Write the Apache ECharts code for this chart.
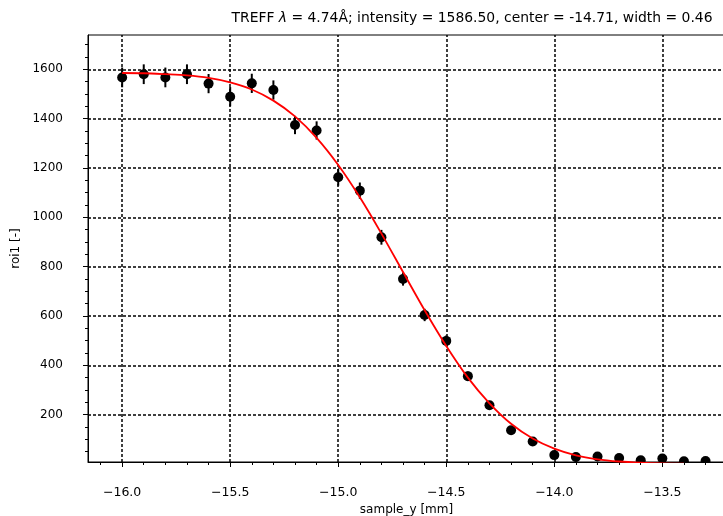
<!DOCTYPE html>
<html>
<head>
<meta charset="utf-8">
<script src="https://cdn.jsdelivr.net/npm/echarts@6/dist/echarts.min.js"></script>
<style>
  html, body { margin: 0; padding: 0; background: #fff; }
  #chart { width: 723px; height: 516px; }
</style>
</head>
<body>
<div id="chart"></div>
<script>
// positions of the scan (sample_y, mm)
var sampleY = [-16.0, -15.9, -15.8, -15.7, -15.6, -15.5, -15.4, -15.3, -15.2, -15.1,
               -15.0, -14.9, -14.8, -14.7, -14.6, -14.5, -14.4, -14.3, -14.2, -14.1,
               -14.0, -13.9, -13.8, -13.7, -13.6, -13.5, -13.4, -13.3];
// measured counts roi1
var roiCounts = [1567, 1580, 1567, 1580, 1542, 1489, 1543, 1516, 1374, 1352,
                 1162, 1108, 919, 750, 604, 499, 356, 238, 137, 91,
                 36, 28, 30, 24, 15, 22, 11, 12];
// error bars (half length)
var roiErrors = [40, 40, 40, 40, 39, 39, 39, 39, 37, 37,
                 34, 33, 30, 27, 25, 22, 19, 15, 12, 10,
                 6, 5, 5, 5, 4, 5, 3, 3];
// fitted curve (red)
var fitX = [-16.0, -15.9, -15.8, -15.7, -15.6, -15.5, -15.4, -15.3, -15.2, -15.1,
            -15.0, -14.9, -14.8, -14.7, -14.6, -14.5, -14.4, -14.3, -14.2, -14.1,
            -14.0, -13.9, -13.8, -13.7, -13.6, -13.5, -13.4, -13.3, -13.2];
var fitY = [1585, 1584, 1580, 1575, 1565, 1547, 1518, 1473, 1409, 1322,
            1212, 1081, 934, 778, 623, 478, 350, 246, 163, 103,
            62, 35, 19, 10, 5, 2, 1, 0.4, 0.1];
// ticks
var xMajor = [-16.0, -15.5, -15.0, -14.5, -14.0, -13.5];
var xMinor = [-16.1, -15.9, -15.8, -15.7, -15.6, -15.4, -15.3, -15.2, -15.1, -14.9, -14.8, -14.7,
              -14.6, -14.4, -14.3, -14.2, -14.1, -13.9, -13.8, -13.7, -13.6, -13.4, -13.3];
var yMajor = [200, 400, 600, 800, 1000, 1200, 1400, 1600];
var yMinor = [50, 100, 150, 250, 300, 350, 450, 500, 550, 650, 700, 750, 850, 900, 950,
              1050, 1100, 1150, 1250, 1300, 1350, 1450, 1500, 1550, 1650, 1700];

var FONT = 'DejaVu Sans';
var X_MIN = -16.158, X_MAX = -13.21;
var Y_MIN = 8, Y_MAX = 1739;

function minus(v) {
	return String(v).replace('-', '\u2212');
}

var chart = echarts.init(document.getElementById('chart'));

var pts = [], fit = [];
for (var i = 0; i < sampleY.length; i++) {
	pts.push([sampleY[i], roiCounts[i], roiErrors[i]]);
}
for (var j = 0; j < fitX.length; j++) {
	fit.push([fitX[j], fitY[j]]);
}

var gridLineStyle = { color: '#000', width: 1.5, type: [3, 2] };
var gridLines = [];
xMajor.forEach(function (v) { gridLines.push({ xAxis: v }); });
yMajor.forEach(function (v) { gridLines.push({ yAxis: v }); });

chart.setOption({
	animation: false,
	backgroundColor: '#fff',
	title: {
		text: '{n|TREFF }{i|λ}{n| = 4.74Å; intensity = 1586.50, center = -14.71, width = 0.46}',
		left: 467,
		top: 6,
		textAlign: 'center',
		textStyle: {
			fontWeight: 'normal',
			rich: {
				n: { fontFamily: FONT, fontSize: 13.9, color: '#000', fontWeight: 'normal' },
				i: { fontFamily: FONT, fontSize: 13.9, color: '#000', fontWeight: 'normal', fontStyle: 'italic' }
			}
		}
	},
	grid: {
		left: 88, right: -2, top: 35, bottom: 54,
		outerBoundsMode: 'none', containLabel: false,
		show: true, borderColor: '#000', borderWidth: 1
	},
	xAxis: [{
		type: 'value', min: X_MIN, max: X_MAX, position: 'bottom',
		name: 'sample_y [mm]', nameLocation: 'middle', nameGap: 41,
		nameTextStyle: { fontFamily: FONT, fontSize: 12, color: '#000' },
		axisLine: { show: true, onZero: false, lineStyle: { color: '#000', width: 1 } },
		axisTick: { show: true, inside: false, length: 5, lineStyle: { color: '#000' }, customValues: xMajor },
		axisLabel: {
			customValues: xMajor, margin: 24, fontFamily: FONT, fontSize: 12.5, color: '#000',
			formatter: function (v) { return minus(v.toFixed(1)); }
		},
		splitLine: { show: false }
	}, {
		type: 'value', min: X_MIN, max: X_MAX, position: 'bottom',
		axisLine: { show: false, onZero: false },
		axisTick: { show: true, inside: false, length: 3, lineStyle: { color: '#000' }, customValues: xMinor },
		axisLabel: { show: false },
		splitLine: { show: false }
	}],
	yAxis: [{
		type: 'value', min: Y_MIN, max: Y_MAX, position: 'left',
		name: 'roi1 [-]', nameLocation: 'middle', nameGap: 58,
		nameTextStyle: { fontFamily: FONT, fontSize: 12, color: '#000' },
		axisLine: { show: true, onZero: false, lineStyle: { color: '#000', width: 1 } },
		axisTick: { show: true, inside: false, length: 5, lineStyle: { color: '#000' }, customValues: yMajor },
		axisLabel: {
			customValues: yMajor, margin: 25, fontFamily: FONT, fontSize: 12, color: '#000',
			formatter: function (v) { return String(v); }
		},
		splitLine: { show: false }
	}, {
		type: 'value', min: Y_MIN, max: Y_MAX, position: 'left',
		axisLine: { show: false, onZero: false },
		axisTick: { show: true, inside: false, length: 3, lineStyle: { color: '#000' }, customValues: yMinor },
		axisLabel: { show: false },
		splitLine: { show: false }
	}],
	series: [{
		// dotted grid
		type: 'line', data: [], z: 1, silent: true,
		markLine: {
			silent: true, symbol: 'none', label: { show: false },
			lineStyle: gridLineStyle, data: gridLines, animation: false
		}
	}, {
		// points with error bars, clipped to the plot area
		type: 'custom', data: pts, z: 3, clip: true,
		renderItem: function (params, api) {
			var x = api.value(0), y = api.value(1), e = api.value(2);
			var c = api.coord([x, y]);
			var top = api.coord([x, y + e]);
			var bot = api.coord([x, y - e]);
			return {
				type: 'group',
				children: [{
					type: 'line',
					shape: { x1: top[0], y1: top[1], x2: bot[0], y2: bot[1] },
					style: { stroke: '#000', lineWidth: 2 }
				}, {
					type: 'circle',
					shape: { cx: c[0], cy: c[1], r: 5 },
					style: { fill: '#000' }
				}]
			};
		}
	}, {
		type: 'line', data: fit, z: 5, clip: true,
		smooth: 0.3, showSymbol: false, symbol: 'none',
		lineStyle: { color: '#ff0000', width: 1.8 }
	}]
});
</script>
</body>
</html>
